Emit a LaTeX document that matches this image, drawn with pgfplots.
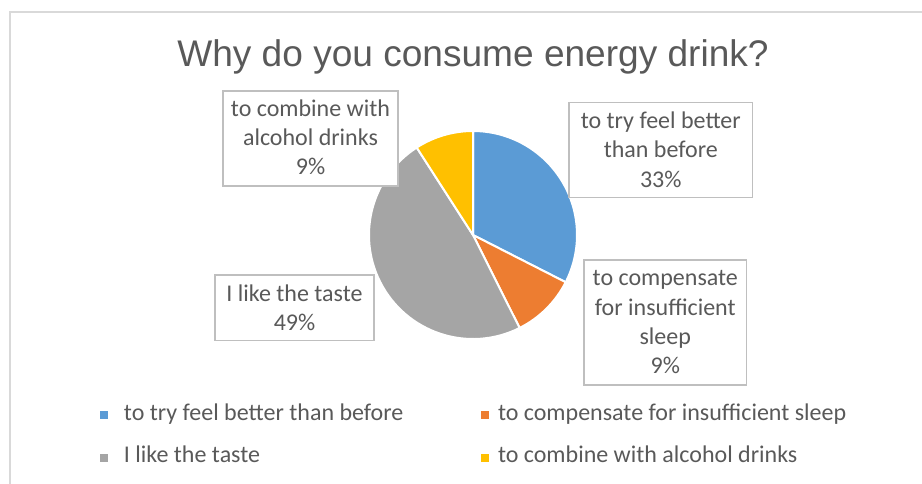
\documentclass[border=0pt]{standalone}
\usepackage{pgfplots}
\pgfplotsset{compat=1.18}
\usepackage{pgfplotstable}
\usepackage{fontspec}
\setmainfont{Carlito}
\newfontfamily\titlefont{Liberation Sans}
\definecolor{pblue}{HTML}{5B9BD5}
\definecolor{porange}{HTML}{ED7D31}
\definecolor{pgray}{HTML}{A5A5A5}
\definecolor{pyellow}{HTML}{FFC000}
\definecolor{txt}{HTML}{595959}
\definecolor{boxc}{HTML}{BFBFBF}
\definecolor{framec}{HTML}{D9D9D9}

\pgfplotstableread{
reason share
feel 32.5
sleep 10.1
taste 48.3
alcohol 9.1
}\piedata

\begin{document}
\begin{tikzpicture}[x=0.75pt,y=0.75pt]
\path[use as bounding box] (0,0) rectangle (922,-484);
\draw[framec, line width=1.5pt] (10,-490) -- (10,-12) -- (930,-12);
\node[anchor=base, text=txt, inner sep=0pt, font=\titlefont\fontsize{27.8}{33}\selectfont] at (473,-66.7) {Why do you consume energy drink?};

\pgfplotstablegetelem{0}{share}\of\piedata \pgfmathsetmacro\aA{90-3.6*\pgfplotsretval}
\pgfplotstablegetelem{1}{share}\of\piedata \pgfmathsetmacro\aB{\aA-3.6*\pgfplotsretval}
\pgfplotstablegetelem{2}{share}\of\piedata \pgfmathsetmacro\aC{\aB-3.6*\pgfplotsretval}
\pgfplotstablegetelem{3}{share}\of\piedata \pgfmathsetmacro\aD{\aC-3.6*\pgfplotsretval}

\begin{axis}[at={(354.75pt,-176.25pt)}, anchor=center, scale only axis,
  width=156pt, height=156pt, xmin=-1, xmax=1, ymin=-1, ymax=1,
  hide axis, clip=false,
  legend columns=2,
  legend image code/.code={\fill[#1] (0pt,-2.8pt) rectangle (5.6pt,2.8pt);},
  legend style={draw=none, fill=none, inner sep=0pt, outer sep=0pt,
    at={(axis description cs:-1.2933,-0.3125)}, anchor=north west,
    nodes={inner sep=0pt, text height=12pt, text depth=4pt, text=txt, font=\fontsize{18}{22}\selectfont},
    row sep=16.25pt,
    /tikz/column 1/.style={column sep=12pt},
    /tikz/column 2/.style={column sep=58pt},
    /tikz/column 3/.style={column sep=7pt}},
  legend cell align=left]
\fill[pblue, draw=white, line width=1.5pt] (axis cs:0,0) -- +(90:78pt) arc[start angle=90, end angle=\aA, radius=78pt] -- cycle;
\fill[porange, draw=white, line width=1.5pt] (axis cs:0,0) -- +(\aA:78pt) arc[start angle=\aA, end angle=\aB, radius=78pt] -- cycle;
\fill[pgray, draw=white, line width=1.5pt] (axis cs:0,0) -- +(\aB:78pt) arc[start angle=\aB, end angle=\aC, radius=78pt] -- cycle;
\fill[pyellow, draw=white, line width=1.5pt] (axis cs:0,0) -- +(\aC:78pt) arc[start angle=\aC, end angle=\aD, radius=78pt] -- cycle;
\addlegendimage{pblue}\addlegendentry{to try feel better than before}
\addlegendimage{porange}\addlegendentry{to compensate for insufficient sleep}
\addlegendimage{pgray}\addlegendentry{I like the taste}
\addlegendimage{pyellow}\addlegendentry{to combine with alcohol drinks}
\end{axis}

\begin{scope}[every node/.style={text=txt, inner sep=0pt, align=center, anchor=base, font=\fontsize{18}{22}\selectfont}]
\draw[boxc, line width=1.1pt, fill=white] (223,-91) rectangle (398,-186);
\node at (310.5,-175) {to combine with\\alcohol drinks\\9\%};
\draw[boxc, line width=1.1pt, fill=white] (569,-102.3) rectangle (752.7,-197.7);
\node at (660.8,-187.3) {to try feel better\\than before\\33\%};
\draw[boxc, line width=1.1pt, fill=white] (584,-260) rectangle (746.7,-385);
\node at (665.3,-374) {to compensate\\for insufficient\\sleep\\9\%};
\draw[boxc, line width=1.1pt, fill=white] (215,-275) rectangle (374,-340.7);
\node at (294.5,-330.7) {I like the taste\\49\%};
\end{scope}
\end{tikzpicture}
\end{document}
